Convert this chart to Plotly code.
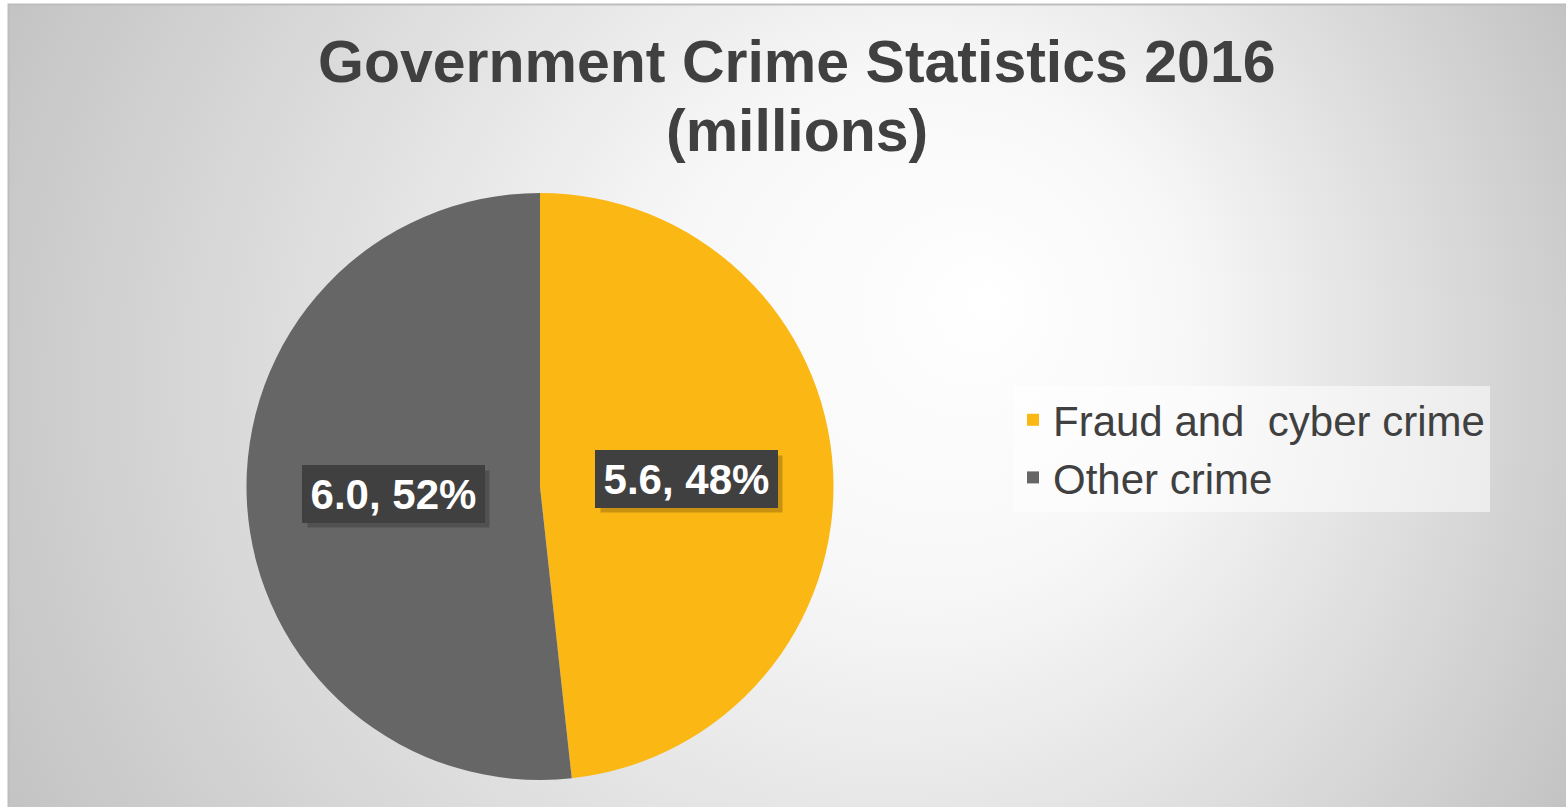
import base64
import numpy as np
import plotly.graph_objects as go

# ---- data ----
categories = ["Fraud and\u00a0 cyber crime", "Other crime"]
values = [5.6, 6.0]
colors = ["#FBB714", "#666666"]
title_line1 = "Government Crime Statistics 2016"
title_line2 = "(millions)"

W, H = 1566, 807
FONT = "Liberation Sans, Arial, sans-serif"
TXT = "#404040"

# pie geometry (pixels -> paper)
cx_px, cy_px, R_px = 540, 486.5, 293.5
dom_x = [(cx_px - R_px) / W, (cx_px + R_px) / W]
dom_y = [1 - (cy_px + R_px) / H, 1 - (cy_px - R_px) / H]

# background: off-centre radial gradient (as in the source chart area)
svg = f"""<svg xmlns='http://www.w3.org/2000/svg' width='{W}' height='{H}' viewBox='0 0 {W} {H}'>
<defs><radialGradient id='g' gradientUnits='userSpaceOnUse' cx='783' cy='405' r='880' fx='990' fy='300'>
<stop offset='0' stop-color='#ffffff'/><stop offset='0.3' stop-color='#f7f7f7'/><stop offset='1' stop-color='#c3c3c3'/>
</radialGradient></defs>
<rect x='0' y='0' width='{W}' height='{H}' fill='#ffffff'/>
<rect x='8.5' y='4.5' width='{W}' height='{H}' fill='url(#g)' stroke='#bdbdbd' stroke-width='2'/>
</svg>"""
bg_uri = "data:image/svg+xml;base64," + base64.b64encode(svg.encode()).decode()

fig = go.Figure()
fig.add_trace(go.Pie(
    labels=categories, values=values, sort=False, direction="clockwise", rotation=0,
    marker=dict(colors=colors, line=dict(width=0)),
    textinfo="none", hoverinfo="label+value+percent",
    domain=dict(x=dom_x, y=dom_y),
))

# data labels at half radius, mid-angle of each slice
total = sum(values)
cum = np.cumsum([0] + values)
annotations = []
LBL_W, LBL_H = 173, 48
for i, v in enumerate(values):
    mid = (cum[i] + v / 2) / total * 2 * np.pi
    lx = (cx_px + 0.5 * R_px * np.sin(mid)) / W
    ly = 1 - (cy_px - 0.5 * R_px * np.cos(mid)) / H
    txt = f"<b>{v:.1f}, {round(v / total * 100):.0f}%</b>"
    common = dict(x=lx, y=ly, xref="paper", yref="paper", showarrow=False,
                  xanchor="center", yanchor="middle", width=LBL_W, height=LBL_H,
                  borderpad=4, borderwidth=1)
    # soft drop shadow box
    annotations.append(dict(text=" ", bgcolor="rgba(0,0,0,0.2)", bordercolor="rgba(0,0,0,0)",
                            xshift=5, yshift=-5, font=dict(family=FONT, size=42), **common))
    annotations.append(dict(text=txt, bgcolor="#404040", bordercolor="#404040",
                            font=dict(family=FONT, size=42, color="#ffffff"), **common))

annotations.append(dict(text=f"<b>{title_line1}</b>", x=797 / W, y=1 - 62 / H, xref="paper", yref="paper",
                        xanchor="center", yanchor="middle",
                        showarrow=False, font=dict(family=FONT, size=59, color=TXT)))
annotations.append(dict(text=f"<b>{title_line2}</b>", x=797 / W, y=1 - 131 / H, xref="paper", yref="paper",
                        xanchor="center", yanchor="middle",
                        showarrow=False, font=dict(family=FONT, size=59, color=TXT)))

fig.update_layout(
    width=W, height=H, margin=dict(l=0, r=0, t=0, b=0),
    paper_bgcolor="#ffffff", plot_bgcolor="rgba(0,0,0,0)",
    images=[dict(source=bg_uri, xref="paper", yref="paper", x=0, y=1, sizex=1, sizey=1,
                 sizing="stretch", layer="below", xanchor="left", yanchor="top")],
    showlegend=True,
    legend=dict(x=1013 / W, y=1 - 449 / H, xanchor="left", yanchor="middle",
                bgcolor="rgba(255,255,255,0.55)", font=dict(family=FONT, size=42, color=TXT),
                itemwidth=30, tracegroupgap=0),
    annotations=annotations,
)

fig.write_html("out.html", config={"displayModeBar": False},
               post_script="document.body.style.margin='0';")
